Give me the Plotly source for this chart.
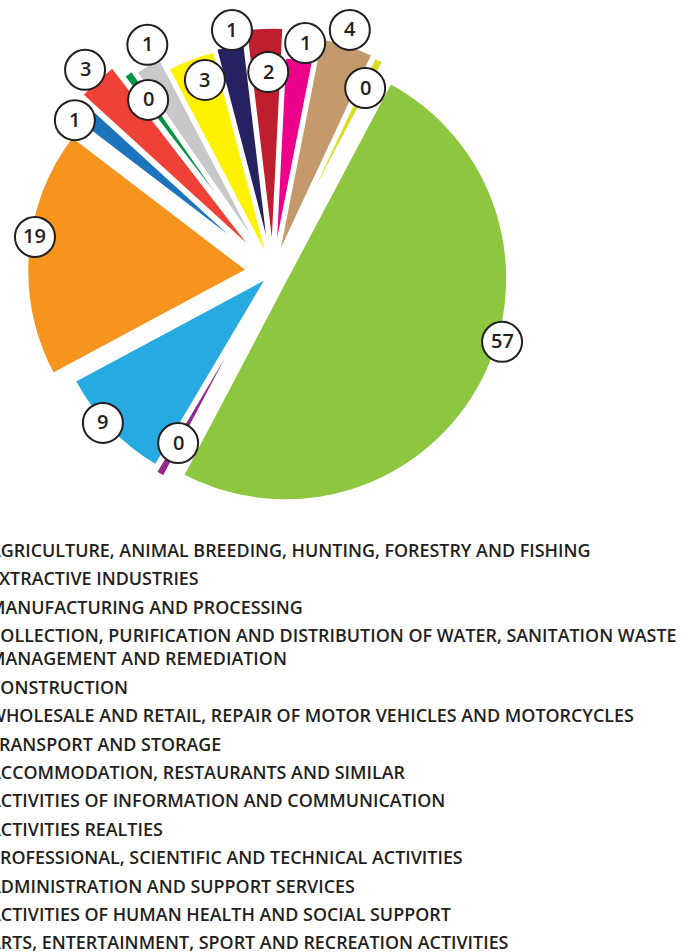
import math
import plotly.graph_objects as go

# ---------------- data ----------------
categories = [
    "AGRICULTURE, ANIMAL BREEDING, HUNTING, FORESTRY AND FISHING",
    "EXTRACTIVE INDUSTRIES",
    "MANUFACTURING AND PROCESSING",
    "COLLECTION, PURIFICATION AND DISTRIBUTION OF WATER, SANITATION WASTE<br>MANAGEMENT AND REMEDIATION",
    "CONSTRUCTION",
    "WHOLESALE AND RETAIL, REPAIR OF MOTOR VEHICLES AND MOTORCYCLES",
    "TRANSPORT AND STORAGE",
    "ACCOMMODATION, RESTAURANTS AND SIMILAR",
    "ACTIVITIES OF INFORMATION AND COMMUNICATION",
    "ACTIVITIES REALTIES",
    "PROFESSIONAL, SCIENTIFIC AND TECHNICAL ACTIVITIES",
    "ADMINISTRATION AND SUPPORT SERVICES",
    "ACTIVITIES OF HUMAN HEALTH AND SOCIAL SUPPORT",
    "ARTS, ENTERTAINMENT, SPORT AND RECREATION ACTIVITIES",
]
# numbers printed in the circles
printed_values = [0, 1, 3, 1, 2, 1, 4, 0, 57, 0, 9, 19, 1, 3]
# slice sizes as drawn (share of the full circle)
slice_shares = [0.8, 2.0, 3.6, 2.2, 2.7, 2.3, 3.9, 0.8, 50.2, 0.8, 8.7, 18.3, 1.4, 2.8]

# ---------------- styles ----------------
colors = ["#009444", "#C7C8CA", "#FFF200", "#262262", "#BE1E2D", "#EC008C", "#C49A6C",
          "#D7DF23", "#8DC63F", "#92278F", "#27AAE1", "#F7941D", "#1C75BC", "#EF4136"]
slice_radius_px = [237, 235, 226.5, 226.5, 237.5, 213, 233, 231.5, 223, 225, 223, 223, 232.5, 247.5]
slice_pull_px = [10, 8, 3, 5, 8, 3, 7, 7, 14, 8, 4.5, 24, 8, 14]
label_angle_offset = [0.2, 2.2, 1.6, 1.1, 0.6, 1.0, -0.5, 0.1, -10.9, -0.2, 2.2, 3.8, -2.4, -0.3]
label_distance = [212.6, 259.6, 203.7, 245.4, 200, 231.2, 254, 205.7, 239.5, 195.6, 227.4, 240.6, 249.6, 276]

W, H = 693, 952
CX, CY = 273, 272
ROTATION = 322.4
INK = "#231F20"
FONT = "Open Sans"
CLEAR = "rgba(0,0,0,0)"
n = len(categories)

fig = go.Figure()
# one pie layer per slice so that each slice keeps its own radius
for i in range(n):
    r_i = slice_radius_px[i]
    p_i = slice_pull_px[i] / r_i
    half = r_i * (1 + p_i)
    fig.add_trace(go.Pie(
        labels=categories,
        values=slice_shares,
        text=[str(v) for v in printed_values],
        sort=False,
        direction="clockwise",
        rotation=ROTATION,
        pull=[p_i if j == i else 0 for j in range(n)],
        marker=dict(colors=[colors[j] if j == i else CLEAR for j in range(n)],
                    line=dict(color=["white" if j == i else CLEAR for j in range(n)], width=4.5)),
        textinfo="none",
        hoverinfo="label+text",
        showlegend=False,
        domain=dict(x=[(CX - half) / W, (CX + half) / W],
                    y=[1 - (CY + half) / H, 1 - (CY - half) / H]),
    ))

# circle labels placed at the slice angles derived from the data
total = sum(slice_shares)
acc = ROTATION
shapes, annotations = [], []
for i, v in enumerate(slice_shares):
    span = 360.0 * v / total
    mid = acc + span / 2
    acc += span
    th = math.radians(mid + label_angle_offset[i])
    px = CX + label_distance[i] * math.sin(th)
    py = CY - label_distance[i] * math.cos(th)
    xa, ya = px / W, 1 - py / H
    shapes.append(dict(type="circle", xref="paper", yref="paper",
                       xsizemode="pixel", ysizemode="pixel",
                       xanchor=xa, yanchor=ya, x0=-20, x1=20, y0=-20, y1=20,
                       fillcolor="white", line=dict(color=INK, width=2), layer="above"))
    annotations.append(dict(x=xa, y=ya + 1.0 / H, xref="paper", yref="paper",
                            text=str(printed_values[i]), showarrow=False,
                            xanchor="center", yanchor="middle",
                            font=dict(family=FONT, size=20, color=INK, weight=600)))

# legend text (its markers fall outside the picture on the left)
LEG_X, LEG_Y0, ITEM_GAP, LINE_GAP = -13, 550, 28.4, 23.3
y = LEG_Y0
for cat in categories:
    lines = cat.split("<br>")
    for j, line in enumerate(lines):
        annotations.append(dict(x=LEG_X / W, y=1 - (y + j * LINE_GAP) / H,
                                xref="paper", yref="paper", text=line, showarrow=False,
                                xanchor="left", yanchor="middle",
                                font=dict(family=FONT, size=17.9, color=INK, weight=600)))
    y += ITEM_GAP + LINE_GAP * (len(lines) - 1)

fig.update_layout(
    width=W, height=H,
    margin=dict(l=0, r=0, t=0, b=0, autoexpand=False),
    paper_bgcolor="white", plot_bgcolor="white",
    shapes=shapes, annotations=annotations,
)
fig.write_html("out.html", config={"displayModeBar": False},
               post_script="document.body.style.margin='0px';")
